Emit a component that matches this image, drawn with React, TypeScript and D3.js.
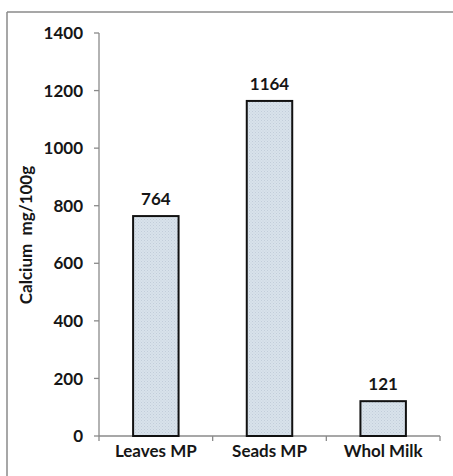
import React from "react";
import * as d3 from "d3";

const categories = ["Leaves MP", "Seads MP", "Whol Milk"];
const values = [764, 1164, 121];
const yTicks = [0, 200, 400, 600, 800, 1000, 1200, 1400];
const yLabel = "Calcium\u00A0\u00A0mg/100g";

const W = 453;
const H = 476;
const FONT = "Lato, 'Liberation Sans', Arial, sans-serif";
const FS = 17;

export default function App() {
  const x0 = 99, x1 = 440, y0 = 436, y1 = 33;
  const x = d3.scaleBand<string>().domain(categories).range([x0, x1]).paddingInner(0.6).paddingOuter(0.3);
  const y = d3.scaleLinear().domain([0, 1400]).range([y0, y1]);
  const edges = d3.scaleBand<string>().domain(categories).range([x0, x1]).padding(0);
  const axisColor = "#8a8a8a";
  const textColor = "#161616";

  return (
    <svg width={W} height={H} style={{ position: "absolute", left: 0, top: 0, background: "#fff" }} fontFamily={FONT}>
      <defs>
        <pattern id="dots" width="3" height="3" patternUnits="userSpaceOnUse">
          <rect width="3" height="3" fill="#d8e2eb" />
          <rect x="0" y="0" width="1" height="1" fill="#c2cdd9" />
          <rect x="1.5" y="1.5" width="1" height="1" fill="#c8d3de" />
        </pattern>
      </defs>
      {/* outer border (top & left visible) */}
      <line x1={7} y1={12} x2={W} y2={12} stroke={axisColor} strokeWidth={1.5} />
      <line x1={7} y1={12} x2={7} y2={H} stroke={axisColor} strokeWidth={1.5} />

      {/* y axis */}
      <line x1={x0} y1={y1} x2={x0} y2={y0} stroke={axisColor} strokeWidth={1.3} />
      {yTicks.map((t) => (
        <g key={t}>
          <line x1={x0 - 5} x2={x0} y1={y(t)} y2={y(t)} stroke={axisColor} strokeWidth={1.3} />
          <text x={83} y={y(t)} dy="0.36em" textAnchor="end" fontSize={FS} fontWeight="bold" fill={textColor}>
            {t}
          </text>
        </g>
      ))}

      {/* x axis */}
      <line x1={x0} y1={y0} x2={x1} y2={y0} stroke={axisColor} strokeWidth={1.3} />
      {[x0, ...categories.map((c) => (edges(c) as number) + edges.bandwidth())].map((px, i) => (
        <line key={i} x1={px} x2={px} y1={y0} y2={y0 + 5} stroke={axisColor} strokeWidth={1.3} />
      ))}
      {categories.map((c) => (
        <text key={c} x={(x(c) as number) + x.bandwidth() / 2} y={457} textAnchor="middle" fontSize={FS} fontWeight="bold" fill={textColor}>
          {c}
        </text>
      ))}

      {/* bars */}
      {categories.map((c, i) => (
        <g key={c}>
          <rect
            x={x(c) as number}
            y={y(values[i])}
            width={x.bandwidth()}
            height={y0 - y(values[i])}
            fill="url(#dots)"
            stroke="#111"
            strokeWidth={2}
          />
          <text x={(x(c) as number) + x.bandwidth() / 2} y={y(values[i]) - 11} textAnchor="middle" fontSize={FS} fontWeight="bold" fill={textColor}>
            {values[i]}
          </text>
        </g>
      ))}

      {/* y label */}
      <text
        transform={`translate(${32},${235}) rotate(-90)`}
        textAnchor="middle"
        fontSize={FS}
        fontWeight="bold"
        fill={textColor}
      >
        {yLabel}
      </text>
    </svg>
  );
}
